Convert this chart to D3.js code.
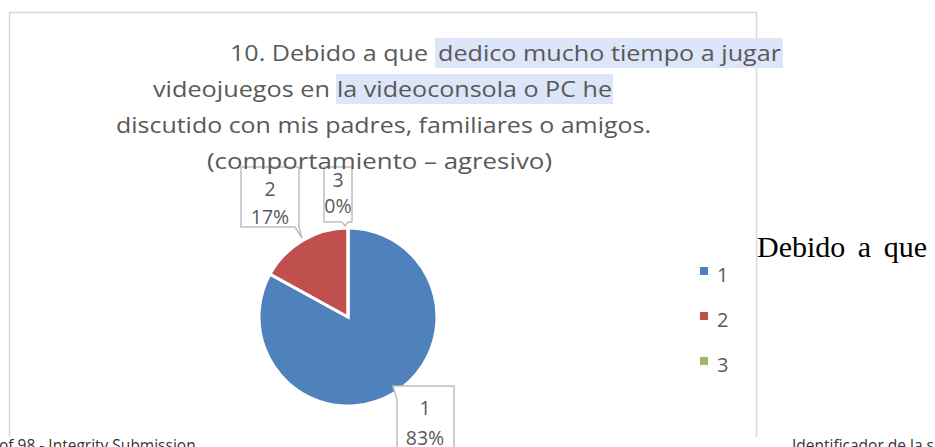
<!DOCTYPE html>
<html>
<head>
<meta charset="utf-8">
<script src="https://cdn.jsdelivr.net/npm/d3@7"></script>
<style>
  body { margin: 0; background: #fff; }
  svg { display: block; }
</style>
</head>
<body>
<div id="chart"></div>
<script>
// data
var categories = ["1", "2", "3"];
var values = [83, 17, 0];
var colors = ["#4F81BD", "#C0504D", "#9BBB59"];

var titleLines = [
  [{t: "10. Debido a que", x0: 230, x1: 428}, {t: "dedico mucho tiempo a jugar", x0: 438, x1: 781, hl: [435, 783]}],
  [{t: "videojuegos en", x0: 153, x1: 330}, {t: "la videoconsola o PC he", x0: 337, x1: 612, hl: [336, 613]}],
  [{t: "discutido con mis padres, familiares o amigos.", x0: 116, x1: 651}],
  [{t: "(comportamiento \u2013 agresivo)", x0: 207, x1: 552}]
];

var width = 935, height = 447;
var cx = 348, cy = 317, radius = 89;
var font = "'Open Sans', 'Noto Sans', sans-serif";

var svg = d3.select("#chart").append("svg")
    .attr("width", width)
    .attr("height", height);

// chart frame (bottom edge is off the page)
svg.append("path")
    .attr("d", "M9.5,437 V12.5 H756.5 V437")
    .attr("fill", "none")
    .attr("stroke", "#d9d9d9")
    .attr("stroke-width", 1.5);

// highlight behind parts of the title
var baselines = [61, 97, 133, 169];
titleLines.forEach(function(line, i) {
  line.forEach(function(seg) {
    if (seg.hl) {
      svg.append("rect")
          .attr("x", seg.hl[0])
          .attr("y", baselines[i] - 23)
          .attr("width", seg.hl[1] - seg.hl[0])
          .attr("height", 30)
          .attr("fill", "#dce6f8");
    }
  });
});

var pie = d3.pie().sort(null).value(function(d) { return d; })
    .startAngle(0).endAngle(2 * Math.PI);
var arcs = pie(values);
var arc = d3.arc().innerRadius(0).outerRadius(radius);

var g = svg.append("g").attr("transform", "translate(" + cx + "," + cy + ")");

g.selectAll("path.slice")
    .data(arcs)
    .enter().append("path")
    .attr("class", "slice")
    .attr("d", arc)
    .attr("fill", function(d, i) { return colors[i]; })
    .attr("stroke", "#fff")
    .attr("stroke-width", 3)
    .attr("stroke-linejoin", "miter");

// data label callouts: box offsets from the pie centre
var calloutLayout = [
  {bx: 48, by: 69, w: 58, h: 80, l1: 29, l2: 59, tail: "left"},
  {bx: -107, by: -150, w: 58, h: 60, l1: 29, l2: 57, tail: "bottomRight"},
  {bx: -24, by: -150, w: 28, h: 55, l1: 20, l2: 46, tail: "bottom"}
];
var total = d3.sum(values);
var pct = d3.format(".0%");

arcs.forEach(function(d, i) {
  var L = calloutLayout[i];
  var x0 = cx + L.bx, y0 = cy + L.by;
  var pts;
  if (L.tail === "left") {
    pts = [[x0 - 3, y0], [x0 + L.w, y0], [x0 + L.w, y0 + L.h], [x0 + 1, y0 + L.h], [x0 + 1, y0 + 14]];
  } else if (L.tail === "bottomRight") {
    pts = [[x0, y0], [x0 + L.w, y0], [x0 + L.w, y0 + L.h], [x0 + L.w + 3, y0 + L.h + 11], [x0 + L.w - 4, y0 + L.h], [x0, y0 + L.h]];
  } else {
    pts = [[x0, y0], [x0 + L.w, y0], [x0 + L.w, y0 + L.h], [x0 + L.w - 4, y0 + L.h], [x0 + L.w - 7, y0 + L.h + 4], [x0 + L.w - 10, y0 + L.h], [x0, y0 + L.h]];
  }
  svg.append("polygon")
      .attr("points", pts.map(function(p) { return p.join(","); }).join(" "))
      .attr("fill", "#fff")
      .attr("stroke", "#bfbfbf")
      .attr("stroke-width", 1.5);
  var tx = x0 + L.w / 2;
  var lbl = svg.append("text")
      .attr("text-anchor", "middle")
      .style("font-family", font)
      .style("font-size", "19.5px")
      .attr("fill", "#595959");
  lbl.append("tspan").attr("x", tx).attr("y", y0 + L.l1).text(categories[i]);
  lbl.append("tspan").attr("x", tx).attr("y", y0 + L.l2).text(pct(values[i] / total));
});

// title text
titleLines.forEach(function(line, i) {
  line.forEach(function(seg) {
    svg.append("text")
        .attr("x", seg.x0)
        .attr("y", baselines[i])
        .attr("textLength", seg.x1 - seg.x0)
        .attr("lengthAdjust", "spacingAndGlyphs")
        .style("font-family", font)
        .style("font-size", "22px")
        .attr("fill", "#595959")
        .text(seg.t);
  });
});

// legend
var legend = svg.append("g").attr("transform", "translate(700,271)");
var item = legend.selectAll("g")
    .data(categories)
    .enter().append("g")
    .attr("transform", function(d, i) { return "translate(0," + (i * 45) + ")"; });
item.append("rect")
    .attr("x", 0).attr("y", -4)
    .attr("width", 8).attr("height", 8)
    .attr("fill", function(d, i) { return colors[i]; });
item.append("text")
    .attr("x", 17).attr("y", 11)
    .style("font-family", font)
    .style("font-size", "20px")
    .attr("fill", "#595959")
    .text(function(d) { return d; });

// surrounding document text
svg.append("text")
    .attr("x", 757).attr("y", 257)
    .style("font-family", "'Liberation Serif', 'Times New Roman', serif")
    .style("font-size", "30px")
    .style("word-spacing", "5px")
    .attr("fill", "#000")
    .text("Debido a que");

svg.append("text")
    .attr("x", -1).attr("y", 451)
    .style("font-family", font)
    .style("font-size", "15.5px")
    .attr("fill", "#333")
    .text("of 98 - Integrity Submission");

svg.append("text")
    .attr("x", 792).attr("y", 451)
    .style("font-family", font)
    .style("font-size", "15.5px")
    .attr("fill", "#333")
    .text("Identificador de la submission");
</script>
</body>
</html>
